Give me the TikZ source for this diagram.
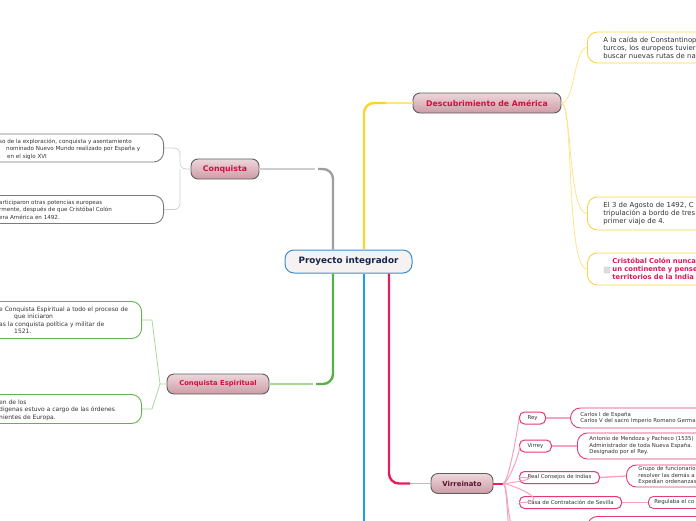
\documentclass[tikz,border=0pt]{standalone}
\usepackage{fontspec}
\setmainfont{DejaVu Sans}
\newcommand{\myfs}[2]{\fontsize{#1}{#2}\selectfont}
\definecolor{cblue}{HTML}{3B8FD2}
\definecolor{cfill}{HTML}{F6F2F2}
\definecolor{cnavy}{HTML}{15254F}
\definecolor{cbrd}{HTML}{5E5E5E}
\definecolor{bt}{HTML}{EDD7DB}
\definecolor{bb}{HTML}{CC9CA5}
\definecolor{ccrim}{HTML}{D0103F}
\definecolor{cmaroon}{HTML}{5A1030}
\definecolor{ctext}{HTML}{333333}
\definecolor{yth}{HTML}{FFD22E}
\definecolor{ytn}{HTML}{FDE38A}
\definecolor{ylf}{HTML}{F6D547}
\definecolor{gth}{HTML}{5BAF48}
\definecolor{gtn}{HTML}{A6D897}
\definecolor{glf}{HTML}{62B350}
\definecolor{rth}{HTML}{9E9E9E}
\definecolor{rtn}{HTML}{CFCFCF}
\definecolor{rlf}{HTML}{7A7A7A}
\definecolor{pth}{HTML}{E61E5C}
\definecolor{ptn}{HTML}{F4A3BE}
\definecolor{plf}{HTML}{E23A72}
\definecolor{bline}{HTML}{1E9DE8}
\definecolor{dcrim}{HTML}{E0185A}
\begin{document}
\begin{tikzpicture}[x=1pt,y=-1pt,
  central/.style={draw=cblue, line width=1, fill=cfill, rounded corners=9, minimum width=127, minimum height=23, font=\bfseries\myfs{8.8}{10}, text=cnavy, inner sep=0},
  branch/.style={draw=cbrd, line width=0.9, rounded corners=7, top color=bt, bottom color=bb, minimum height=20, inner sep=0, font=\bfseries\myfs{7.8}{9}, text=ccrim},
  leaf/.style={draw, fill=white, line width=0.9, rounded corners=10, align=left, text=ctext, inner ysep=0},
  leafbox/.style={draw, fill=white, line width=0.9, rounded corners=10, anchor=east, minimum width=185, inner sep=0},
  ltxt/.style={anchor=base west, inner sep=0, text=ctext, font=\myfs{6}{7.5}},
  ltxtg/.style={ltxt, font=\myfs{5.6}{7.5}},
  leafY/.style={leaf, draw=ylf, anchor=west, text width=140, inner xsep=16, font=\myfs{6.9}{8}},
  leafP/.style={leaf, draw=plf, anchor=west, text width=150, font=\myfs{5.4}{6.5}},
  subn/.style={draw=plf, line width=1, fill=white, rounded corners=5, anchor=west, minimum height=12, inner xsep=8, inner ysep=0, font=\myfs{5.4}{6.5}, text=ctext},
  thickln/.style={line width=2.4, rounded corners=10},
  thinln/.style={line width=1.3},
  twig/.style={line width=0.8}
]
\useasboundingbox (0,0) rectangle (696,520);
\clip (0,0) rectangle (696,520);

% central and branches
\node[central] (cen) at (348.5,261.5) {Proyecto integrador};
\node[branch, minimum width=68] (con) at (225,169) {Conquista};
\node[branch, minimum width=148] (desc) at (487,103) {Descubrimiento de América};
\node[branch, minimum width=102, font=\bfseries\myfs{6.8}{8}] (ce) at (218,384) {Conquista Espiritual};
\node[branch, minimum width=62, font=\bfseries\myfs{6.9}{8}, text=cmaroon] (vir) at (462,483.5) {Virreinato};

% main connectors
\coordinate (cg) at ([xshift=-15.5]cen.north);
\coordinate (cy) at ([xshift=15.5]cen.north);
\coordinate (cgr) at ([xshift=-15.5]cen.south);
\coordinate (cbl) at ([xshift=15.5]cen.south);
\coordinate (cpk) at ([xshift=40.5]cen.south);
\draw[thinln, rtn] (315,169) -- (con.east);
\draw[thickln, rth] (cg) |- (318,169);
\draw[thinln, ytn] (383,103) -- (desc.west);
\draw[thickln, yth] (cy) |- (386,103);
\draw[thinln, gtn] (313,384) -- (ce.east);
\draw[thickln, gth] (cgr) |- (316,384);
\draw[thinln, ptn] (406,483.5) -- (vir.west);
\draw[thickln, pth] (cpk) |- (410,483.5);
\coordinate (bend) at (364,530);
\draw[line width=2.4, bline] (cbl) -- (bend);

% Conquista leaves
\node[leafbox, draw=rlf, minimum height=28] (c1) at (164,148) {};
\node[ltxtg] (c1a) at (-1,143) {so de la exploración, conquista y asentamiento};
\node[ltxtg] (c1b) at (6,150.5) {nominado Nuevo Mundo realizado por España y};
\node[ltxtg] (c1c) at (7,158) {en el siglo XVI};
\node[leafbox, draw=rlf, minimum height=28] (c2) at (164,209.5) {};
\node[ltxtg] (c2a) at (-1,204) {articiparon otras potencias europeas};
\node[ltxtg] (c2b) at (-1,211.5) {rmente, después de que Cristóbal Colón};
\node[ltxtg] (c2c) at (-1,219) {era América en 1492.};
\coordinate (cj) at (180,169);
\draw[twig, rtn, rounded corners=6] (c1.east) -| (cj) -- (con.west);
\draw[twig, rtn, rounded corners=6] (c2.east) -| (cj);

% Conquista Espiritual leaves
\node[leafbox, draw=glf, minimum height=37] (e1) at (142,320) {};
\node[ltxt] (e1a) at (-1,311) {e Conquista Espiritual a todo el proceso de};
\node[ltxt] (e1b) at (14,318.5) {que iniciaron};
\node[ltxt] (e1c) at (-1,326) {as la conquista política y militar de};
\node[ltxt] (e1d) at (14,333.5) {1521.};
\node[leafbox, draw=glf, minimum height=29] (e2) at (142,409) {};
\node[ltxt] (e2a) at (-1,404) {en de los};
\node[ltxt] (e2b) at (-1,411.5) {digenas estuvo a cargo de las órdenes};
\node[ltxt] (e2c) at (-1,419) {nientes de Europa.};
\coordinate (gj) at (160,384);
\draw[twig, gtn] (e1.east) -- ++(10,0) -- (gj) -- (ce.west);
\draw[twig, gtn] (e2.east) -- ++(10,0) -- (gj);

% Descubrimiento leaves
\node[leafY, minimum height=31] (d1) at (587,47.5) {A la caída de Constantinop\\turcos, los europeos tuvier\\buscar nuevas rutas de na};
\node[leafY, minimum height=33] (d2) at (587,213.5) {El 3 de Agosto de 1492, C\\tripulación a bordo de tres\\primer viaje de 4.};
\node[leafY, minimum height=32, inner xsep=25, text=dcrim, font=\bfseries\myfs{6.8}{8}] (d3) at (587,269) {Cristóbal Colón nunca\\un continente y pense\\territorios de la India};
\node[draw=black!22, fill=black!13, rounded corners=1, minimum size=6, inner sep=0] (d3c) at (607,270) {};
\draw[twig, ytn] (desc.east) .. controls (575,103) and (574,47.5) .. (d1.west);
\draw[twig, ytn] (desc.east) .. controls (572,104) and (568,213.5) .. (d2.west);
\draw[twig, ytn] (desc.east) .. controls (574,104) and (566,269) .. (d3.west);

% Virreinato
\draw[line width=2, pth] (vir.east) -- (503,483.5) coordinate (vs);
\node[subn] (rey) at (519,418) {Rey};
\node[subn] (vry) at (519,446) {Virrey};
\node[subn] (rci) at (519,477.5) {Real Consejos de Indias};
\node[subn] (cas) at (519,502.5) {Casa de Contratación de Sevilla};
\coordinate (o1) at (519,535);
\coordinate (o2) at (519,565);
\foreach \t in {rey,vry,rci,cas,o1,o2} {
  \draw[twig, ptn, line width=1] (vs) .. controls (509,483.5) and ([xshift=-13]\t) .. (\t);
}

\node[leafP, minimum height=20, inner xsep=10] (reyl) at (570,418) {Carlos I de España\\Carlos V del sacro Imperio Romano Germa};
\node[leafP, minimum height=26, inner xsep=12] (vryl) at (577,446) {Antonio de Mendoza y Pacheco (1535)\\Administrador de toda Nueva España.\\Designado por el Rey.};
\node[leafP, minimum height=22, inner xsep=12] (rcil) at (626,476) {Grupo de funcionario\\resolver las demás a\\Expedían ordenanzas};
\node[leafP, minimum height=12, inner xsep=6, rounded corners=5] (casl) at (648,502.5) {Regulaba el co};
\node[leafP, anchor=north west, minimum height=24, text width=140] (nxt) at (587,516) {};
\draw[thinln, ptn] (rey.east) -- (reyl.west);
\draw[thinln, ptn] (vry.east) -- (vryl.west);
\draw[thinln, ptn] (rci.east) -- (rcil.west);
\draw[thinln, ptn] (cas.east) -- (casl.west);
\end{tikzpicture}
\end{document}
